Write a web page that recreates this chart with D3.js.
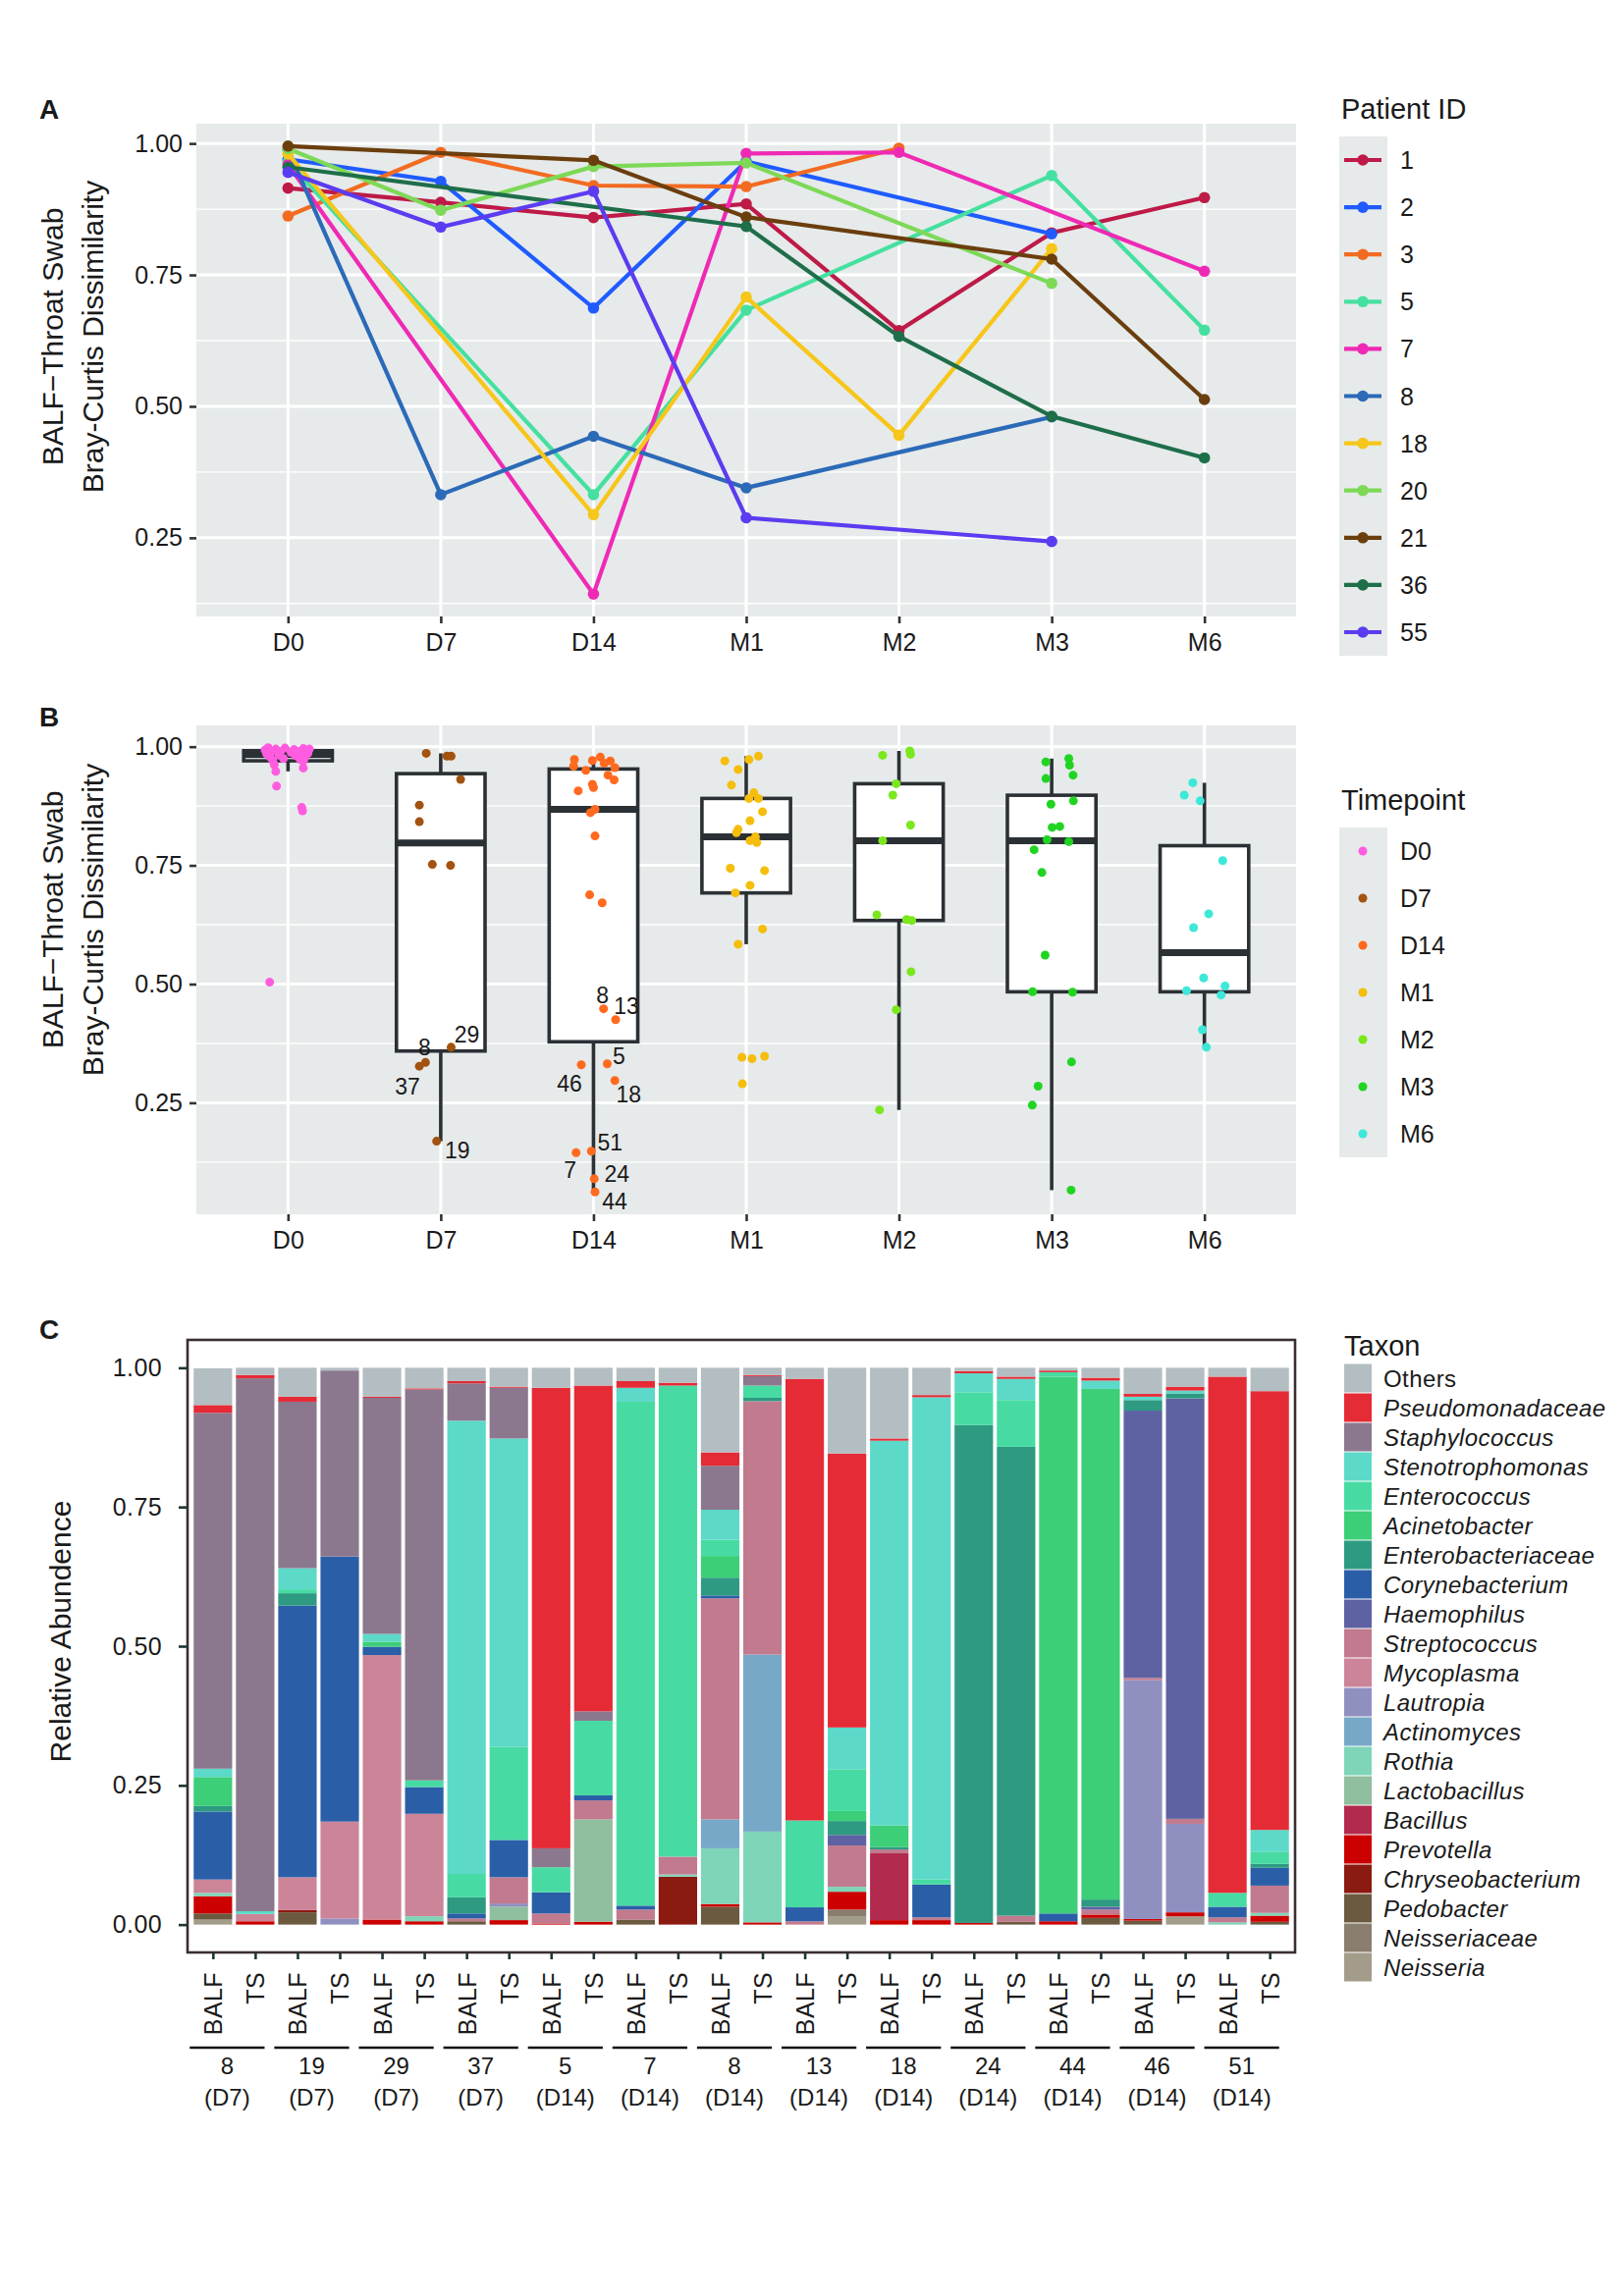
<!DOCTYPE html>
<html lang="en">
	<head>
		<meta charset="utf-8">
		<title>BALF vs Throat Swab dissimilarity and taxa</title>
		<script type="text/javascript" src="https://cdn.jsdelivr.net/npm/d3@7"></script>
		<style type="text/css">
			body { margin: 0; background: #fff; }
			text { font-family: "Liberation Sans", Arial, sans-serif; fill: #1a1a1a; }
		</style>
	</head>
	<body>
		<script type="text/javascript">

			//Timepoints shared by panels A and B
			var timepoints = ["D0", "D7", "D14", "M1", "M2", "M3", "M6"];

			//Panel A: one value per timepoint per patient (null = not sampled)
			var patients = ["1", "2", "3", "5", "7", "8", "18", "20", "21", "36", "55"];
			var patientColors = ["#BE1A48", "#1F5BFF", "#F26B21", "#45E0A0", "#EE2AB5", "#2C6AB8",
								 "#F7C61B", "#7DD957", "#6B3E0E", "#1E6E4A", "#5B3CF0"];
			var p1  = [0.915, 0.888, 0.859, 0.885, 0.644, 0.830, 0.897];
			var p2  = [0.970, 0.928, 0.687, 0.966, null,  0.828, null];
			var p3  = [0.862, 0.983, 0.920, 0.918, 0.991, null,  null];
			var p5  = [0.965, null,  0.332, 0.683, null,  0.939, 0.645];
			var p7  = [0.960, null,  0.143, 0.981, 0.983, null,  0.757];
			var p8  = [0.988, 0.332, 0.443, 0.345, null,  0.480, null];
			var p18 = [0.980, null,  0.294, 0.708, 0.445, 0.800, null];
			var p20 = [0.990, 0.873, 0.956, 0.963, null,  0.734, null];
			var p21 = [0.995, null,  0.968, 0.860, null,  0.780, 0.513];
			var p36 = [0.955, null,  null,  0.842, 0.633, 0.481, 0.402];
			var p55 = [0.945, 0.841, 0.909, 0.288, null,  0.243, null];
			var patientSeries = [p1, p2, p3, p5, p7, p8, p18, p20, p21, p36, p55];

			//Panel B: dissimilarity per sample, its jitter offset (fraction of step) and patient label
			var timeColors = ["#FF5CE0", "#A3520F", "#FF6A1F", "#F5BE0C", "#7AE81E", "#22D422", "#3DE8D8"];
			var d0Vals = [0.998, 0.997, 0.996, 0.995, 0.995, 0.994, 0.993, 0.992, 0.990, 0.990,
						  0.989, 0.988, 0.986, 0.985, 0.984, 0.983, 0.981, 0.979, 0.977, 0.975,
						  0.973, 0.971, 0.970, 0.962, 0.955, 0.948, 0.917, 0.872, 0.865, 0.504];
			var d0Jit  = [-0.13, -0.02, 0.10, -0.08, 0.14, 0.04, -0.15, 0.12, -0.05, 0.07,
						  -0.11, 0.02, 0.13, -0.14, 0.09, -0.06, 0.05, -0.12, 0.11, -0.03,
						  0.08, -0.10, 0.10, -0.09, 0.10, -0.08, -0.075, 0.09, 0.095, -0.12];
			var d7Vals = [0.986, 0.980, 0.980, 0.931, 0.877, 0.842, 0.752, 0.750, 0.367, 0.335, 0.327, 0.169];
			var d7Jit  = [-0.095, 0.04, 0.068, 0.13, -0.14, -0.14, -0.055, 0.064, 0.068, -0.10, -0.14, -0.027];
			var d7Ids  = [null, null, null, null, null, null, null, null, "29", "8", "37", "19"];
			var d14Vals = [0.978, 0.973, 0.971, 0.970, 0.965, 0.959, 0.956, 0.950, 0.940, 0.930,
						   0.921, 0.914, 0.907, 0.868, 0.861, 0.812, 0.688, 0.671, 0.448, 0.425,
						   0.332, 0.330, 0.297, 0.148, 0.145, 0.090, 0.062];
			var d14Jit  = [0.045, -0.125, -0.007, 0.11, 0.07, -0.13, 0.14, -0.05, 0.095, 0.135,
						   -0.007, 0.0, -0.10, 0.01, -0.02, 0.01, -0.025, 0.057, 0.066, 0.145,
						   0.09, -0.08, 0.14, -0.014, -0.114, 0.005, 0.01];
			var d14Ids  = [null, null, null, null, null, null, null, null, null, null,
						   null, null, null, null, null, null, null, null, "8", "13",
						   "5", "46", "18", "51", "7", "24", "44"];
			var m1Vals = [0.980, 0.973, 0.970, 0.952, 0.919, 0.903, 0.891, 0.891, 0.863, 0.844,
						  0.826, 0.819, 0.810, 0.802, 0.798, 0.744, 0.739, 0.708, 0.692, 0.616,
						  0.584, 0.348, 0.346, 0.343, 0.290];
			var m1Jit  = [0.08, 0.018, -0.14, -0.053, -0.097, 0.05, 0.018, 0.08, 0.107, 0.025,
						  -0.053, -0.064, 0.06, 0.025, 0.069, -0.104, 0.12, 0.025, -0.071, 0.107,
						  -0.053, 0.12, -0.028, 0.038, -0.025];
			var m2Vals = [0.991, 0.984, 0.982, 0.922, 0.898, 0.835, 0.802, 0.646, 0.636, 0.634, 0.526, 0.446, 0.235];
			var m2Jit  = [0.071, 0.076, -0.107, -0.018, -0.04, 0.076, -0.107, -0.145, 0.05, 0.084, 0.079, -0.018, -0.127];
			var m3Vals = [0.975, 0.968, 0.961, 0.940, 0.933, 0.886, 0.879, 0.832, 0.830, 0.804,
						  0.800, 0.783, 0.735, 0.561, 0.484, 0.483, 0.336, 0.285, 0.245, 0.066];
			var m3Jit  = [0.112, -0.038, 0.117, 0.14, -0.038, 0.142, -0.005, 0.053, 0.003, -0.03,
						  0.112, -0.115, -0.064, -0.043, -0.125, 0.137, 0.13, -0.089, -0.127, 0.127];
			var m6Vals = [0.924, 0.898, 0.886, 0.760, 0.648, 0.619, 0.513, 0.496, 0.486, 0.477, 0.404, 0.367];
			var m6Jit  = [-0.076, -0.132, -0.028, 0.12, 0.028, -0.071, -0.005, 0.135, -0.117, 0.109, -0.013, 0.013];
			var timeVals = [d0Vals, d7Vals, d14Vals, m1Vals, m2Vals, m3Vals, m6Vals];
			var timeJit  = [d0Jit, d7Jit, d14Jit, m1Jit, m2Jit, m3Jit, m6Jit];
			var timeIds  = [[], d7Ids, d14Ids, [], [], [], []];

			//Panel C: sample order, patient groups and relative abundance per taxon
			var sampleTypes = ["BALF", "TS"];
			var groupIds   = ["8", "19", "29", "37", "5", "7", "8", "13", "18", "24", "44", "46", "51"];
			var groupTimes = ["(D7)", "(D7)", "(D7)", "(D7)", "(D14)", "(D14)", "(D14)", "(D14)", "(D14)", "(D14)", "(D14)", "(D14)", "(D14)"];
			var taxa = ["Others", "Pseudomonadaceae", "Staphylococcus", "Stenotrophomonas", "Enterococcus",
						"Acinetobacter", "Enterobacteriaceae", "Corynebacterium", "Haemophilus", "Streptococcus",
						"Mycoplasma", "Lautropia", "Actinomyces", "Rothia", "Lactobacillus", "Bacillus",
						"Prevotella", "Chryseobacterium", "Pedobacter", "Neisseriaceae", "Neisseria"];
			var taxaColors = ["#B3BEC2", "#E52B36", "#8B788E", "#5CD9C8", "#47DBA3",
							  "#3CCF78", "#2E9A82", "#2A5FA8", "#5E62A3", "#C27A8E",
							  "#CC8499", "#9090C0", "#77A8C8", "#7FD5B8", "#8FBF9E", "#B22A4D",
							  "#CC0000", "#8B1A10", "#6B5A40", "#8A7E6E", "#A39C8A"];
			var others        = [.066,.013,.052,.005,.052,.037,.024,.034,.036,.032,.024,.027,.152,.013,.020,.154,.127,.049,.006,.016,.005,.018,.047,.034,.016,.042];
			var pseudomonad   = [.014,.006,.009,0,.002,.002,.004,.002,.827,.585,.012,.005,.024,.002,.793,.492,.004,.004,.004,.004,.003,.005,.005,.007,.927,.788];
			var staphylo      = [.639,.957,.299,.334,.424,.702,.067,.091,.034,.017,0,0,.079,.017,0,0,0,0,0,0,0,0,0,0,0,0];
			var stenotroph    = [.015,.005,.038,0,.014,0,.814,.554,0,0,.025,0,.054,0,0,.075,.691,.866,.034,.038,0,.015,.006,.005,0,.039];
			var enterococ     = [0,0,.007,0,0,.012,.042,.167,.045,.134,.905,.846,.029,.022,.156,.075,0,.009,.059,.084,.008,0,0,0,.025,.022];
			var acinetob      = [.052,0,0,0,.009,0,0,0,0,0,0,0,.039,0,0,.018,.039,0,0,0,.964,.917,0,0,0,0];
			var enterobac     = [.010,0,.022,0,0,0,.029,0,0,0,0,0,.032,.006,0,.025,.004,0,.894,.842,0,.013,.019,.009,0,.007];
			var coryne        = [.122,0,.488,.476,.015,.048,.009,.067,.038,.009,.007,0,.005,0,.025,0,0,.059,0,0,.014,0,0,0,.019,.032];
			var haemophil     = [0,0,0,0,0,0,0,0,0,0,0,0,0,0,0,.019,0,0,0,0,0,.005,.480,.755,0,0];
			var streptococ    = [0,0,0,0,0,0,.005,.047,.018,.034,.018,.032,.397,.455,.006,.074,.007,.005,0,.011,0,.009,.004,.009,.009,.049];
			var mycoplasma    = [.024,.013,.059,.174,.475,.184,0,0,0,0,0,0,0,0,0,0,0,0,0,0,0,0,0,0,0,0];
			var lautropia     = [0,0,0,.011,0,0,0,.006,0,0,0,0,0,0,0,0,0,0,0,0,0,0,.429,.159,0,0];
			var actinomyc     = [0,0,0,0,0,0,0,0,0,0,0,0,.052,.318,0,0,0,0,0,0,0,0,0,0,0,0];
			var rothia        = [.006,0,0,0,0,.009,0,0,0,0,0,.004,.100,.163,0,.009,0,0,0,0,0,0,0,0,.004,.005];
			var lactobac      = [0,0,0,0,0,0,0,.024,0,.184,0,0,0,0,0,0,0,0,0,0,0,0,0,0,0,0];
			var bacillus      = [0,0,0,0,0,0,0,0,0,0,0,0,0,0,0,0,.120,0,0,0,0,0,0,0,0,0];
			var prevotella    = [.031,.006,0,0,.009,.006,0,.008,.002,.005,0,0,.005,.004,0,.032,.008,.008,.003,0,.006,.006,.003,.007,0,.011];
			var chryseob      = [0,0,.004,0,0,0,0,0,0,0,0,.086,0,0,0,0,0,0,0,0,0,0,0,0,0,0];
			var pedobacter    = [.011,0,.022,0,0,0,.006,0,0,0,.009,0,.032,0,0,0,0,0,0,.005,0,.012,.007,0,0,.005];
			var neisseriac    = [0,0,0,0,0,0,0,0,0,0,0,0,0,0,0,.013,0,0,0,0,0,0,0,0,0,0];
			var neisseria     = [.009,0,0,0,0,0,0,0,0,0,0,0,0,0,0,.014,0,0,0,0,0,0,0,.015,0,0];
			var taxaSeries = [others, pseudomonad, staphylo, stenotroph, enterococ, acinetob, enterobac, coryne,
							  haemophil, streptococ, mycoplasma, lautropia, actinomyc, rothia, lactobac, bacillus,
							  prevotella, chryseob, pedobacter, neisseriac, neisseria];

			//Width and height
			var w = 1654;
			var h = 2339;

			var svg = d3.select("body")
						.append("svg")
						.attr("width", w)
						.attr("height", h);

			svg.append("rect").attr("width", w).attr("height", h).attr("fill", "#fff");

			var panelBg = "#E6EAEA";
			var axisDark = "#333";
			var fmt = d3.format(".2f");

			//Helper: grey ggplot panel with white grid
			function greyPanel(x, y, left, right, major, minor) {
				var g = svg.append("g");
				g.append("rect")
				 .attr("x", left).attr("y", y.range()[1])
				 .attr("width", right - left).attr("height", y.range()[0] - y.range()[1])
				 .attr("fill", panelBg);
				g.selectAll(".minor").data(minor).enter().append("line")
				 .attr("x1", left).attr("x2", right)
				 .attr("y1", function(d) { return y(d); }).attr("y2", function(d) { return y(d); })
				 .attr("stroke", "#fff").attr("stroke-width", 1.4);
				g.selectAll(".major").data(major).enter().append("line")
				 .attr("x1", left).attr("x2", right)
				 .attr("y1", function(d) { return y(d); }).attr("y2", function(d) { return y(d); })
				 .attr("stroke", "#fff").attr("stroke-width", 3);
				g.selectAll(".vmajor").data(x.domain()).enter().append("line")
				 .attr("x1", function(d) { return x(d); }).attr("x2", function(d) { return x(d); })
				 .attr("y1", y.range()[0]).attr("y2", y.range()[1])
				 .attr("stroke", "#fff").attr("stroke-width", 3);

				//Axes
				var yAxis = g.append("g")
					.attr("transform", "translate(" + left + ",0)")
					.call(d3.axisLeft(y).tickValues(major).tickFormat(fmt).tickSize(7).tickPadding(7));
				var xAxis = g.append("g")
					.attr("transform", "translate(0," + y.range()[0] + ")")
					.call(d3.axisBottom(x).tickSize(7).tickPadding(10));
				[yAxis, xAxis].forEach(function(a) {
					a.select(".domain").remove();
					a.selectAll(".tick line").attr("stroke", axisDark).attr("stroke-width", 2.6);
					a.selectAll(".tick text").attr("font-size", "25px").attr("fill", "#1a1a1a")
					 .attr("font-family", "Liberation Sans, Arial, sans-serif");
				});
				return g;
			}

			function yTitle(cx, cy, lines) {
				lines.forEach(function(t, i) {
					svg.append("text")
					   .attr("transform", "translate(" + (cx + i * 41) + "," + cy + ") rotate(-90)")
					   .attr("text-anchor", "middle")
					   .attr("dominant-baseline", "central")
					   .attr("font-size", "30px")
					   .text(t);
				});
			}

			function panelLetter(x, y, t) {
				svg.append("text").attr("x", x).attr("y", y)
				   .attr("font-size", "28px").attr("font-weight", "bold").text(t);
			}

			var major = [0.25, 0.5, 0.75, 1.0];
			var minor = [0.125, 0.375, 0.625, 0.875];

			// ---------------- Panel A ----------------
			var aAll = d3.merge(patientSeries).filter(function(v) { return v !== null; });
			var aExt = d3.extent(aAll);
			var aPad = (aExt[1] - aExt[0]) * 0.05;
			var ax = d3.scalePoint().domain(timepoints).range([200, 1320]).padding(0.6);
			var ay = d3.scaleLinear().domain([aExt[0] - aPad, aExt[1] + aPad]).range([628, 126]);

			greyPanel(ax, ay, 200, 1320, major, minor);
			panelLetter(40, 121, "A");
			yTitle(53, 343, ["BALF\u2212Throat Swab", "Bray-Curtis Dissimilarity"]);

			var lineGen = d3.line()
				.x(function(d) { return ax(d.t); })
				.y(function(d) { return ay(d.v); });

			patientSeries.forEach(function(series, k) {
				var pts = series.map(function(v, i) { return { t: timepoints[i], v: v }; })
								.filter(function(d) { return d.v !== null; });
				var g = svg.append("g");
				g.append("path")
				 .attr("d", lineGen(pts))
				 .attr("fill", "none")
				 .attr("stroke", patientColors[k])
				 .attr("stroke-width", 4.2);
				g.selectAll("circle").data(pts).enter().append("circle")
				 .attr("cx", function(d) { return ax(d.t); })
				 .attr("cy", function(d) { return ay(d.v); })
				 .attr("r", 5.8)
				 .attr("fill", patientColors[k]);
			});

			//Legend A
			svg.append("text").attr("x", 1366).attr("y", 121).attr("font-size", "29px").text("Patient ID");
			svg.append("rect").attr("x", 1364).attr("y", 139).attr("width", 49).attr("height", 48.1 * patients.length)
			   .attr("fill", panelBg);
			patients.forEach(function(p, i) {
				var cy = 139 + 48.1 * i + 24;
				svg.append("line").attr("x1", 1369).attr("x2", 1407).attr("y1", cy).attr("y2", cy)
				   .attr("stroke", patientColors[i]).attr("stroke-width", 4.2);
				svg.append("circle").attr("cx", 1388).attr("cy", cy).attr("r", 5.8).attr("fill", patientColors[i]);
				svg.append("text").attr("x", 1426).attr("y", cy).attr("dominant-baseline", "central")
				   .attr("font-size", "25px").text(p);
			});

			// ---------------- Panel B ----------------
			var bAll = d3.merge(timeVals);
			var bExt = d3.extent(bAll);
			var bPad = (bExt[1] - bExt[0]) * 0.05;
			var bx = d3.scalePoint().domain(timepoints).range([200, 1320]).padding(0.6);
			var by = d3.scaleLinear().domain([bExt[0] - bPad, bExt[1] + bPad]).range([1237, 739]);

			greyPanel(bx, by, 200, 1320, major, minor);
			panelLetter(40, 740, "B");
			yTitle(53, 937, ["BALF\u2212Throat Swab", "Bray-Curtis Dissimilarity"]);

			var step = bx.step();
			var boxW = step * 0.58;
			var boxStroke = "#2B3035";

			//Boxplots computed from the samples (Tukey whiskers)
			timepoints.forEach(function(t, i) {
				var vals = timeVals[i].slice().sort(d3.ascending);
				var q1 = d3.quantile(vals, 0.25), med = d3.quantile(vals, 0.5), q3 = d3.quantile(vals, 0.75);
				var iqr = q3 - q1;
				var lo = d3.min(vals.filter(function(v) { return v >= q1 - 1.5 * iqr; }));
				var hi = d3.max(vals.filter(function(v) { return v <= q3 + 1.5 * iqr; }));
				var cx = bx(t);
				var g = svg.append("g");
				g.append("line").attr("x1", cx).attr("x2", cx).attr("y1", by(hi)).attr("y2", by(q3))
				 .attr("stroke", boxStroke).attr("stroke-width", 3.6);
				g.append("line").attr("x1", cx).attr("x2", cx).attr("y1", by(q1)).attr("y2", by(lo))
				 .attr("stroke", boxStroke).attr("stroke-width", 3.6);
				g.append("rect").attr("x", cx - boxW / 2).attr("width", boxW)
				 .attr("y", by(q3)).attr("height", by(q1) - by(q3))
				 .attr("fill", "#fff").attr("stroke", boxStroke).attr("stroke-width", 3.6);
				g.append("line").attr("x1", cx - boxW / 2).attr("x2", cx + boxW / 2)
				 .attr("y1", by(med)).attr("y2", by(med))
				 .attr("stroke", boxStroke).attr("stroke-width", 7);
			});

			//Jittered samples
			var labelNudge = {
				"D7":  { "29": [16, -13], "8": [-1, -15], "37": [-12, 21], "19": [21, 9] },
				"D14": { "8": [-1, -14], "13": [11, -14], "5": [12, -8], "46": [-12, 19], "18": [14, 14],
						 "51": [19, -9], "7": [-6, 18], "24": [23, -5], "44": [20, 10] }
			};
			timepoints.forEach(function(t, i) {
				var pts = timeVals[i].map(function(v, j) {
					return { v: v, j: timeJit[i][j], id: timeIds[i][j] || null };
				});
				var g = svg.append("g");
				g.selectAll("circle").data(pts).enter().append("circle")
				 .attr("cx", function(d) { return bx(t) + d.j * step; })
				 .attr("cy", function(d) { return by(d.v); })
				 .attr("r", 4.5)
				 .attr("fill", timeColors[i]);
				g.selectAll("text").data(pts.filter(function(d) { return d.id; })).enter().append("text")
				 .attr("x", function(d) { return bx(t) + d.j * step + labelNudge[t][d.id][0]; })
				 .attr("y", function(d) { return by(d.v) + labelNudge[t][d.id][1]; })
				 .attr("text-anchor", "middle")
				 .attr("dominant-baseline", "central")
				 .attr("font-size", "23px")
				 .text(function(d) { return d.id; });
			});

			//Legend B
			svg.append("text").attr("x", 1366).attr("y", 825).attr("font-size", "29px").text("Timepoint");
			svg.append("rect").attr("x", 1364).attr("y", 843).attr("width", 49).attr("height", 48 * timepoints.length)
			   .attr("fill", panelBg);
			timepoints.forEach(function(t, i) {
				var cy = 843 + 48 * i + 24;
				svg.append("circle").attr("cx", 1388).attr("cy", cy).attr("r", 4.5).attr("fill", timeColors[i]);
				svg.append("text").attr("x", 1426).attr("y", cy).attr("dominant-baseline", "central")
				   .attr("font-size", "25px").text(t);
			});

			// ---------------- Panel C ----------------
			var nBars = groupIds.length * sampleTypes.length;
			var barIdx = d3.range(nBars);
			var rows = barIdx.map(function(b) {
				var r = { idx: b };
				taxa.forEach(function(tx, k) { r[tx] = taxaSeries[k][b]; });
				return r;
			});
			var stack = d3.stack().keys(taxa.slice().reverse());
			var layers = stack(rows);
			var colorOf = d3.scaleOrdinal().domain(taxa).range(taxaColors);

			var cLeft = 191, cRight = 1319;
			var cx = d3.scalePoint().domain(barIdx).range([cLeft, cRight]).padding(0.6);
			var cy = d3.scaleLinear().domain([-0.05, 1.05]).range([1989, 1365]);
			var barW = cx.step() * 0.91;

			panelLetter(40, 1364, "C");

			svg.append("g").selectAll("g").data(layers).enter().append("g")
			   .attr("fill", function(d) { return colorOf(d.key); })
			   .selectAll("rect").data(function(d) { return d; }).enter().append("rect")
			   .attr("x", function(d) { return cx(d.data.idx) - barW / 2; })
			   .attr("width", barW)
			   .attr("y", function(d) { return cy(d[1]); })
			   .attr("height", function(d) { return Math.max(0, cy(d[0]) - cy(d[1])); });

			//Panel border
			svg.append("rect").attr("x", cLeft).attr("y", 1365)
			   .attr("width", cRight - cLeft).attr("height", 1989 - 1365)
			   .attr("fill", "none").attr("stroke", "#3A2E30").attr("stroke-width", 2.6);

			var cyAxis = svg.append("g")
				.attr("transform", "translate(" + cLeft + ",0)")
				.call(d3.axisLeft(cy).tickValues([0, 0.25, 0.5, 0.75, 1.0]).tickFormat(fmt).tickSize(9).tickPadding(17));
			var cxAxis = svg.append("g")
				.attr("transform", "translate(0,1989)")
				.call(d3.axisBottom(cx).tickSize(7).tickFormat(function(b) { return sampleTypes[b % 2]; }));
			[cyAxis, cxAxis].forEach(function(a) {
				a.select(".domain").remove();
				a.selectAll(".tick line").attr("stroke", "#1F3535").attr("stroke-width", 2.6);
				a.selectAll(".tick text").attr("font-size", "25px").attr("fill", "#1a1a1a")
				 .attr("font-family", "Liberation Sans, Arial, sans-serif")
				 .attr("letter-spacing", "0.4px");
			});
			cxAxis.selectAll(".tick text")
				.attr("transform", "rotate(-90)")
				.attr("x", -20).attr("y", 0).attr("dy", "0.36em")
				.attr("text-anchor", "end");

			//Patient / timepoint grouping under the samples
			groupIds.forEach(function(g, i) {
				var xa = cx(2 * i) - barW / 2 - 4;
				var xb = cx(2 * i + 1) + barW / 2 - 10;
				var mid = (xa + xb) / 2;
				svg.append("line").attr("x1", xa).attr("x2", xb).attr("y1", 2086).attr("y2", 2086)
				   .attr("stroke", "#111").attr("stroke-width", 2.6);
				svg.append("text").attr("x", mid).attr("y", 2113).attr("text-anchor", "middle")
				   .attr("font-size", "24px").text(g);
				svg.append("text").attr("x", mid).attr("y", 2145).attr("text-anchor", "middle")
				   .attr("font-size", "24px").text(groupTimes[i]);
			});

			svg.append("text")
			   .attr("transform", "translate(61,1662) rotate(-90)")
			   .attr("text-anchor", "middle").attr("dominant-baseline", "central")
			   .attr("font-size", "30px").text("Relative Abundence");

			//Legend C
			svg.append("text").attr("x", 1369).attr("y", 1381).attr("font-size", "29px").text("Taxon");
			taxa.forEach(function(tx, i) {
				var yc = 1404 + 30 * i;
				svg.append("rect").attr("x", 1369).attr("y", yc - 14.5).attr("width", 28).attr("height", 29)
				   .attr("fill", taxaColors[i]);
				svg.append("text").attr("x", 1409).attr("y", yc).attr("dominant-baseline", "central")
				   .attr("font-size", "24px")
				   .attr("letter-spacing", "0.4px")
				   .attr("font-style", tx === "Others" ? "normal" : "italic")
				   .text(tx);
			});

		</script>
	</body>
</html>
